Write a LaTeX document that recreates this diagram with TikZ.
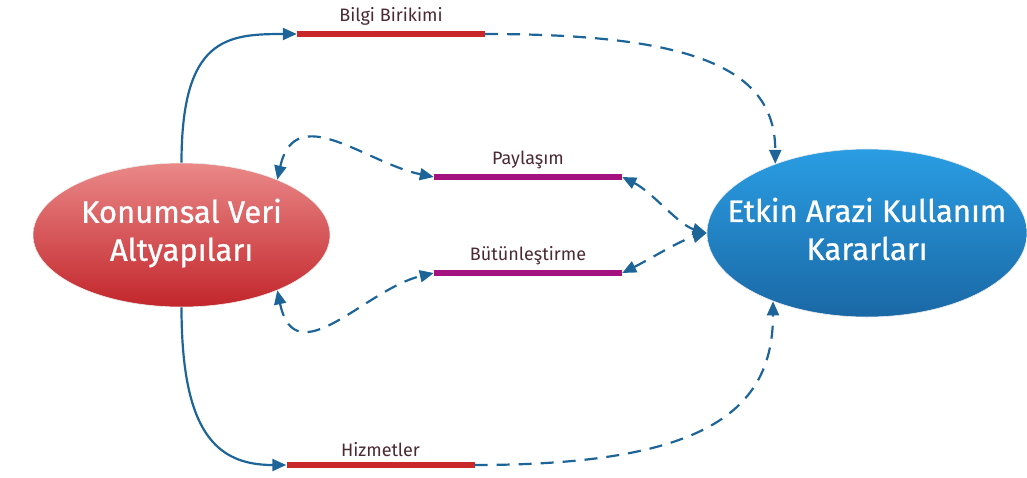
\documentclass[tikz,border=0pt]{standalone}
\usepackage{fontspec}
\setmainfont{Fira Sans}
\usetikzlibrary{shapes.geometric,arrows.meta}

\definecolor{linkblue}{HTML}{1D6599}
\definecolor{barred}{HTML}{C8282A}
\definecolor{barplum}{HTML}{A3127F}
\definecolor{labelink}{HTML}{4B2832}
\definecolor{redtop}{HTML}{EA8888}
\definecolor{redbot}{HTML}{C2262B}
\definecolor{bluetop}{HTML}{2A9DE3}
\definecolor{bluebot}{HTML}{1A68A5}

\tikzset{
  bubble/.style={ellipse, inner sep=0pt, draw=white!85!gray, line width=0.6pt},
  redbubble/.style={bubble, top color=redtop, bottom color=redbot},
  bluebubble/.style={bubble, top color=bluetop, bottom color=bluebot},
  bubbletext/.style={text=white, align=center, inner sep=0pt,
    font=\fontsize{31}{38}\selectfont\addfontfeature{FakeBold=0.8}},
  bar/.style={rectangle, inner sep=0pt, minimum height=6pt, minimum width=188pt},
  barlabel/.style={text=labelink, font=\fontsize{18}{20}\selectfont, anchor=south, inner sep=0pt},
  link/.style={draw=linkblue, line width=2.2pt},
  dlink/.style={link, dash pattern=on 13pt off 9pt},
  tip/.style={-{Triangle[length=14pt,width=12pt]}},
  tips/.style={{Triangle[length=14pt,width=12pt]}-{Triangle[length=14pt,width=12pt]}},
}

\begin{document}
\begin{tikzpicture}[x=1pt,y=-1pt]
\useasboundingbox (0,0) rectangle (1027,477);

% the two main bubbles
\node[redbubble, minimum width=297pt, minimum height=144pt] (src) at (181.5,235) {};
\node[bubbletext] (srctext) at ([yshift=2pt]src.center) {Konumsal Veri\\Altyapıları};
\node[bluebubble, minimum width=320pt, minimum height=168pt] (dst) at (867,233) {};
\node[bubbletext] (dsttext) at ([yshift=4pt]dst.center) {Etkin Arazi Kullanım\\Kararları};

% the four middle bars with their captions
\node[bar, fill=barred]  (bilgi)   at (391,34)  {};
\node[bar, fill=barplum] (paylas)  at (528,177) {};
\node[bar, fill=barplum] (butun)   at (528,273) {};
\node[bar, fill=barred]  (hizmet)  at (380.5,465) {};

\node[barlabel] (lbilgi)  at ([yshift=5pt]bilgi.north)  {Bilgi Birikimi};
\node[barlabel] (lpaylas) at ([yshift=5pt]paylas.north) {Paylaşım};
\node[barlabel] (lbutun)  at ([yshift=5pt]butun.north)  {Bütünleştirme};
\node[barlabel] (lhizmet) at ([yshift=5pt]hizmet.north) {Hizmetler};

% solid links leaving the source bubble
\draw[link, tip] (src.north) .. controls +(0,-125) and +(-70,0) .. (bilgi.west);
\draw[link, tip] (src.south) .. controls +(0,125) and +(-70,0) .. (hizmet.west);

% dashed links into the decision bubble
\draw[dlink, tip] (bilgi.east) .. controls +(210,0) and +(0,-95) .. (dst.143);
\draw[dlink, tip] (hizmet.east) .. controls +(230,0) and +(0,110) .. (dst.216);

% two-way dashed links around the sharing and integration bars
\draw[dlink, tips] (src.30) .. controls +(18,-80) and +(-68,-14) .. (paylas.west);
\draw[dlink, tips] (src.-30) .. controls +(18,86) and +(-68,16) .. (butun.west);
\draw[dlink, tips] (paylas.east) .. controls +(30,15) and +(-28,-8) .. (dst.west);
\draw[dlink, tips] (butun.east) .. controls +(30,-15) and +(-28,8) .. (dst.west);
\end{tikzpicture}
\end{document}
